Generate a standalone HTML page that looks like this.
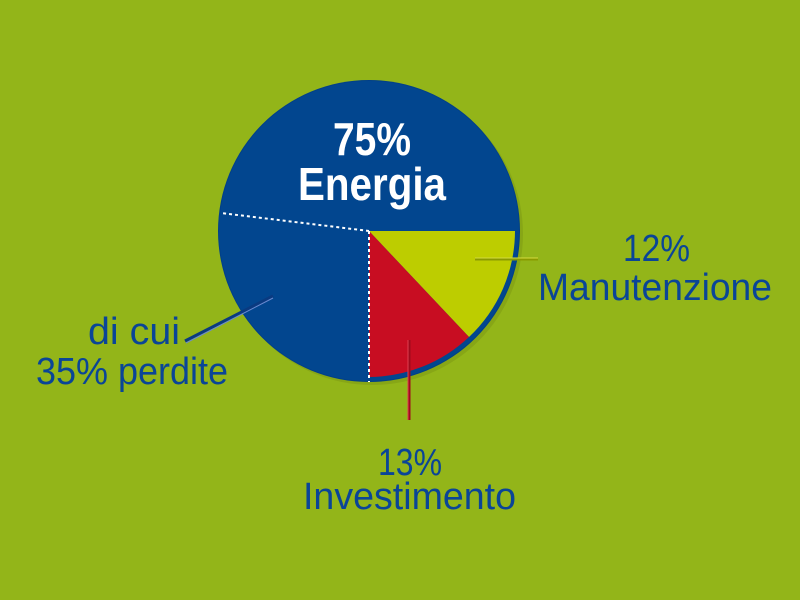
<!DOCTYPE html>
<html><head><meta charset="utf-8"><style>
html,body{margin:0;padding:0;background:#93b519;}
svg{display:block}
text{font-family:"Liberation Sans",sans-serif;}
</style></head><body>
<svg width="800" height="600" viewBox="0 0 800 600" xmlns="http://www.w3.org/2000/svg">
<rect width="800" height="600" fill="#93b519"/>
<circle cx="372" cy="234" r="151" fill="#7f9c14" opacity="0.6"/>
<circle cx="369" cy="231" r="151" fill="#003f8a"/>
<circle cx="369" cy="231" r="150" fill="#02468f"/>
<path d="M369,231 L515,231 A146,146 0 0 1 469,337 Z" fill="#bdcd00"/>
<path d="M369,231 L469,337 A146,146 0 0 1 369,377 Z" fill="#c80d22"/>
<line x1="369" y1="231" x2="369" y2="382" stroke="#fff" stroke-width="2" stroke-dasharray="3,3"/>
<line x1="369" y1="231" x2="221" y2="213" stroke="#fff" stroke-width="2" stroke-dasharray="3,3"/>
<line x1="475" y1="259" x2="538" y2="259" stroke="#8a9a00" stroke-width="3"/>
<line x1="475" y1="258" x2="538" y2="258" stroke="#d4dc40" stroke-width="1"/>
<line x1="409" y1="340" x2="409" y2="420" stroke="#a00a1c" stroke-width="3"/>
<line x1="408" y1="340" x2="408" y2="420" stroke="#e04050" stroke-width="1"/>
<line x1="185" y1="341" x2="273" y2="296" stroke="#0a3a80" stroke-width="3"/>
<line x1="186" y1="343" x2="273" y2="298" stroke="#6a8ad0" stroke-width="1"/>
<g fill="#fff" font-weight="bold" font-size="46" text-anchor="middle">
<text x="372" y="155" textLength="78" lengthAdjust="spacingAndGlyphs">75%</text>
<text x="372" y="200" textLength="148" lengthAdjust="spacingAndGlyphs">Energia</text>
</g>
<g fill="#0a4597" font-size="38">
<text x="623" y="261" textLength="67" lengthAdjust="spacingAndGlyphs">12%</text>
<text x="538" y="300" textLength="234" lengthAdjust="spacingAndGlyphs">Manutenzione</text>
<text x="88" y="344" textLength="92" lengthAdjust="spacingAndGlyphs">di cui</text>
<text x="36" y="384" textLength="192" lengthAdjust="spacingAndGlyphs">35% perdite</text>
<text x="378" y="475" textLength="64" lengthAdjust="spacingAndGlyphs">13%</text>
<text x="303" y="509" textLength="213" lengthAdjust="spacingAndGlyphs">Investimento</text>
</g>
</svg>
</body></html>
